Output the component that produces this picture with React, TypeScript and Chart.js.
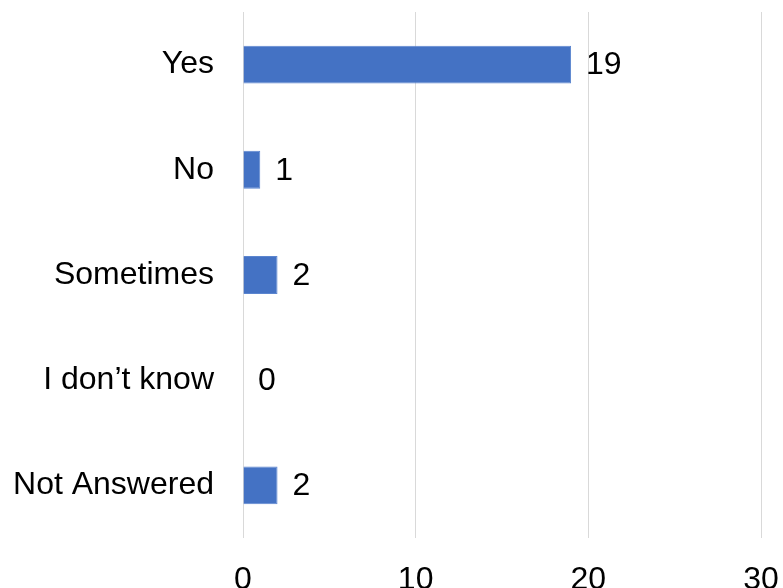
import React, { useEffect, useRef } from "react";
import { Chart, registerables } from "chart.js";

Chart.register(...registerables);

const categories = ["Yes", "No", "Sometimes", "I don\u2019t know", "Not Answered"];
const counts = [19, 1, 2, 0, 2];
const xTicks = [0, 10, 20, 30];

const FONT = "'Liberation Sans', Arial, sans-serif";

const valueLabels = {
  id: "valueLabels",
  afterDatasetsDraw(chart: any) {
    const ctx = chart.ctx;
    const meta = chart.getDatasetMeta(0);
    ctx.save();
    ctx.font = `32px ${FONT}`;
    ctx.fillStyle = "#000";
    ctx.textAlign = "left";
    ctx.textBaseline = "middle";
    meta.data.forEach((bar: any, i: number) => {
      const v = chart.data.datasets[0].data[i];
      ctx.fillText(String(v), bar.x + 15, bar.y + 1);
    });
    ctx.restore();
  },
};

export default function App() {
  const ref = useRef<HTMLCanvasElement | null>(null);
  useEffect(() => {
    if (!ref.current) return;
    const chart = new Chart(ref.current, {
      type: "bar",
      data: {
        labels: categories,
        datasets: [
          {
            data: counts,
            backgroundColor: "#4472C4",
            borderColor: "#5B85CF",
            borderWidth: 1,
            barPercentage: 0.36,
            categoryPercentage: 1,
          },
        ],
      },
      options: {
        indexAxis: "y",
        animation: false,
        responsive: false,
        layout: { padding: { top: 12, left: 0, right: 39, bottom: 0 } },
        plugins: { legend: { display: false }, tooltip: { enabled: false } },
        scales: {
          x: {
            min: 0,
            max: 30,
            afterBuildTicks(scale: any) {
              scale.ticks = xTicks.map((v) => ({ value: v }));
            },
            afterFit(scale: any) {
              scale.height = 50;
              scale.paddingLeft = 0;
              scale.paddingRight = 0;
            },
            grid: { color: "#d9d9d9", lineWidth: 1, drawTicks: false },
            border: { display: false },
            ticks: {
              color: "#000",
              padding: 23,
              font: { size: 32, family: FONT },
              maxRotation: 0,
            },
          },
          y: {
            afterFit(scale: any) {
              scale.width = 243;
              scale.paddingTop = 0;
              scale.paddingBottom = 0;
            },
            grid: { display: false, drawTicks: false },
            border: { display: false },
            ticks: {
              color: "#000",
              padding: 29,
              font: { size: 32, family: FONT },
            },
          },
        },
      },
      plugins: [valueLabels],
    });
    return () => chart.destroy();
  }, []);
  return (
    <div
      style={{
        position: "fixed",
        left: 0,
        top: 0,
        width: 783,
        height: 588,
        overflow: "hidden",
        background: "#fff",
      }}
    >
      <canvas ref={ref} width={800} height={588} style={{ display: "block" }} />
    </div>
  );
}
